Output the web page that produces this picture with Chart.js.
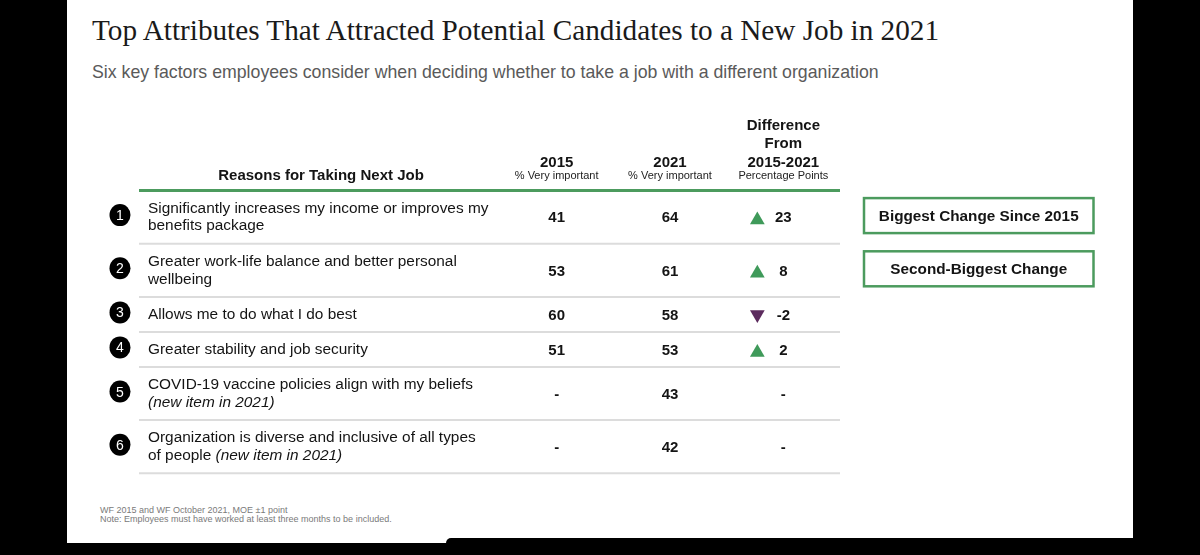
<!DOCTYPE html>
<html>
<head>
<meta charset="utf-8">
<script src="https://cdn.jsdelivr.net/npm/chart.js@4.4.1/dist/chart.umd.min.js"></script>
<style>
  html, body { margin: 0; padding: 0; width: 1200px; height: 555px; overflow: hidden; background: #000; }
  #panel { position: absolute; left: 67px; top: 0; width: 1066px; height: 543px; background: #fff; }
  #step { position: absolute; left: 446px; top: 538px; width: 760px; height: 20px; background: #000; border-radius: 5px 0 0 0; }
  .txt { position: absolute; white-space: nowrap; line-height: 1; margin: 0; font-weight: normal; }
  #title { font-family: "Liberation Serif", "Times New Roman", serif; color: #1a1a1a; }
  #subtitle { font-family: "Liberation Sans", Arial, sans-serif; color: #5a5a5a; }
  .foot { font-family: "Liberation Sans", Arial, sans-serif; color: #7a7a7a; font-size: 9px; }
  #chart { position: absolute; left: 0; top: 0; }
</style>
</head>
<body>
<div id="panel"></div>
<div id="step"></div>
<h1 id="title" class="txt">Top Attributes That Attracted Potential Candidates to a New Job in 2021</h1>
<div id="subtitle" class="txt">Six key factors employees consider when deciding whether to take a job with a different organization</div>
<div id="foot1" class="txt foot">WF 2015 and WF October 2021, MOE ±1 point</div>
<div id="foot2" class="txt foot">Note: Employees must have worked at least three months to be included.</div>
<canvas id="chart" width="1200" height="555"></canvas>
<script>
// ---------------- DATA ----------------
const reasonHeader = 'Reasons for Taking Next Job';
const reasonLines = [
  ['Significantly increases my income or improves my', 'benefits package'],
  ['Greater work-life balance and better personal', 'wellbeing'],
  ['Allows me to do what I do best'],
  ['Greater stability and job security'],
  ['COVID-19 vaccine policies align with my beliefs', ''],
  ['Organization is diverse and inclusive of all types', 'of people']
];
const italicNotes = ['', '', '', '', '(new item in 2021)', '(new item in 2021)'];
const columnKeys = ['2015', '2021', 'diff'];
const columnTitles = [['2015'], ['2021'], ['Difference', 'From', '2015-2021']];
const columnUnits = ['% Very important', '% Very important', 'Percentage Points'];
const pct2015 = [41, 53, 60, 51, null, null];
const pct2021 = [64, 61, 58, 53, 43, 42];
const diffPts = [23, 8, -2, 2, null, null];
const callouts = ['Biggest Change Since 2015', 'Second-Biggest Change', null, null, null, null];

// ---------------- STYLE ----------------
const SANS = '"Liberation Sans", Arial, sans-serif';
const GREEN = '#4c9b5e';
const TRI_GREEN = '#3f9a5a';
const PURPLE = '#5c2b5e';
const INK = '#141414';

// ---------------- HTML text fitting ----------------
(function placeHtmlText() {
  const mctx = document.createElement('canvas').getContext('2d');
  function fit(el, family, targetWidth, baseline, left, asc) {
    mctx.font = '100px ' + family;
    const w = mctx.measureText(el.textContent).width;
    const size = 100 * targetWidth / w;
    el.style.fontSize = size.toFixed(2) + 'px';
    el.style.left = left + 'px';
    el.style.top = (baseline - asc * size) + 'px';
  }
  fit(document.getElementById('title'), '"Liberation Serif"', 851, 40, 92, 0.8375);
  fit(document.getElementById('subtitle'), '"Liberation Sans"', 787, 79, 92, 0.8465);
  const f1 = document.getElementById('foot1'), f2 = document.getElementById('foot2');
  f1.style.left = '100px'; f1.style.top = (513.5 - 0.8465 * 9) + 'px';
  f2.style.left = '100px'; f2.style.top = (523 - 0.8465 * 9) + 'px';
})();

// ---------------- row layout (derived from label line counts) ----------------
const ONE_LINE = 35, TWO_LINE = 53.2;
const spans = reasonLines.map(l => l.length > 1 ? TWO_LINE : ONE_LINE);
const bounds = [0];
spans.forEach(s => bounds.push(bounds[bounds.length - 1] + s));
const centers = spans.map((s, i) => bounds[i] + s / 2);
const totalDepth = bounds[bounds.length - 1];

function cells(values, key) {
  return values.map((v, i) => ({ x: key, y: centers[i], v: v }));
}
function triangles(filterFn) {
  return diffPts.map((v, i) => (v != null && filterFn(v)) ? { x: 'diff', y: centers[i] } : null).filter(Boolean);
}

const tablePlugin = {
  id: 'tablePlugin',
  beforeDatasetsDraw(chart) {
    const { ctx, chartArea, scales: { y } } = chart;
    ctx.save();
    ctx.strokeStyle = '#dcdcdc';
    ctx.lineWidth = 2;
    for (let i = 1; i < bounds.length; i++) {
      const py = y.getPixelForValue(bounds[i]);
      ctx.beginPath(); ctx.moveTo(139, py); ctx.lineTo(chartArea.right, py); ctx.stroke();
    }
    ctx.strokeStyle = GREEN;
    ctx.lineWidth = 3;
    const top = y.getPixelForValue(0);
    ctx.beginPath(); ctx.moveTo(139, top); ctx.lineTo(chartArea.right, top); ctx.stroke();
    ctx.restore();
  },
  beforeDatasetDraw(chart, args) {
    const ds = chart.data.datasets[args.index];
    if (ds.shiftX || ds.shiftY) {
      chart.ctx.save();
      chart.ctx.translate(ds.shiftX || 0, ds.shiftY || 0);
    }
  },
  afterDatasetDraw(chart, args) {
    const ds = chart.data.datasets[args.index];
    if (ds.shiftX || ds.shiftY) chart.ctx.restore();
  },
  afterDatasetsDraw(chart) {
    const { ctx, scales: { x, y } } = chart;
    ctx.save();
    ctx.textBaseline = 'alphabetic';
    ctx.fillStyle = INK;
    ctx.textAlign = 'center';
    columnKeys.forEach((k, ci) => {
      const px = x.getPixelForValue(ci);
      const lines = columnTitles[ci];
      ctx.font = 'bold 15px ' + SANS;
      lines.forEach((t, li) => {
        const capCenter = 161.7 - (lines.length - 1 - li) * 18.7;
        ctx.fillText(t, px, capCenter + 0.358 * 15);
      });
      ctx.font = '11px ' + SANS;
      ctx.fillStyle = '#222';
      ctx.fillText(columnUnits[ci], px, 179);
      ctx.fillStyle = INK;
    });
    ctx.font = 'bold 15px ' + SANS;
    ctx.fillText(reasonHeader, 321, 180.3);

    ctx.font = 'bold 15px ' + SANS;
    chart.data.datasets.forEach((ds, di) => {
      if (!ds.cellText) return;
      const meta = chart.getDatasetMeta(di);
      meta.data.forEach((el, i) => {
        const v = ds.data[i].v;
        ctx.fillText(v == null ? '-' : String(v), el.x, el.y + 0.358 * 15);
      });
    });

    reasonLines.forEach((lines, i) => {
      const cy = y.getPixelForValue(centers[i]);
      ctx.fillStyle = '#000';
      ctx.beginPath();
      ctx.ellipse(120, cy - 2, 10.5, 11, 0, 0, Math.PI * 2);
      ctx.fill();
      ctx.fillStyle = '#fff';
      ctx.textAlign = 'center';
      ctx.font = '14px ' + SANS;
      ctx.fillText(String(i + 1), 120, cy - 2 + 0.358 * 14);

      ctx.fillStyle = INK;
      ctx.textAlign = 'left';
      const n = lines.length;
      lines.forEach((t, li) => {
        const capCenter = cy - 1 + (li - (n - 1) / 2) * 17.5;
        const base = capCenter + 0.358 * 15.4;
        ctx.font = '15.4px ' + SANS;
        ctx.fillText(t, 148, base);
        if (li === n - 1 && italicNotes[i]) {
          let w = ctx.measureText(t).width;
          if (t) w += ctx.measureText(' ').width;
          ctx.font = 'italic 15.4px ' + SANS;
          ctx.fillText(italicNotes[i], 148 + w, base);
        }
      });

      if (callouts[i]) {
        const bh = 35, bx = 864, bw = 229.5;
        const by = cy - 1.5 - bh / 2;
        ctx.strokeStyle = GREEN;
        ctx.lineWidth = 2.5;
        ctx.strokeRect(bx, by, bw, bh);
        ctx.fillStyle = INK;
        ctx.textAlign = 'center';
        ctx.font = 'bold 15.3px ' + SANS;
        ctx.fillText(callouts[i], bx + bw / 2, cy - 1.5 + 0.358 * 15.3);
      }
    });
    ctx.restore();
  }
};

new Chart(document.getElementById('chart'), {
  type: 'scatter',
  data: {
    labels: columnKeys,
    datasets: [
      { label: '2015', data: cells(pct2015, '2015'), pointRadius: 0, pointHoverRadius: 0, cellText: true },
      { label: '2021', data: cells(pct2021, '2021'), pointRadius: 0, pointHoverRadius: 0, cellText: true },
      { label: 'Difference', data: cells(diffPts, 'diff'), pointRadius: 0, pointHoverRadius: 0, cellText: true },
      { label: 'Increase', data: triangles(v => v > 0), pointStyle: 'triangle', pointRadius: 8.5,
        backgroundColor: TRI_GREEN, borderWidth: 0, rotation: 0, shiftX: -26, shiftY: 3, clip: false },
      { label: 'Decrease', data: triangles(v => v < 0), pointStyle: 'triangle', pointRadius: 8.5,
        backgroundColor: PURPLE, borderWidth: 0, rotation: 180, shiftX: -26, shiftY: 0, clip: false }
    ]
  },
  options: {
    responsive: false,
    animation: false,
    events: [],
    layout: { padding: { left: 500, right: 360, top: 190.5, bottom: 555 - 190.5 - totalDepth } },
    plugins: { legend: { display: false }, tooltip: { enabled: false }, title: { display: false } },
    scales: {
      x: { type: 'category', labels: columnKeys, offset: true, display: false },
      y: { type: 'linear', min: 0, max: totalDepth, reverse: true, display: false }
    }
  },
  plugins: [tablePlugin]
});
</script>
</body>
</html>
